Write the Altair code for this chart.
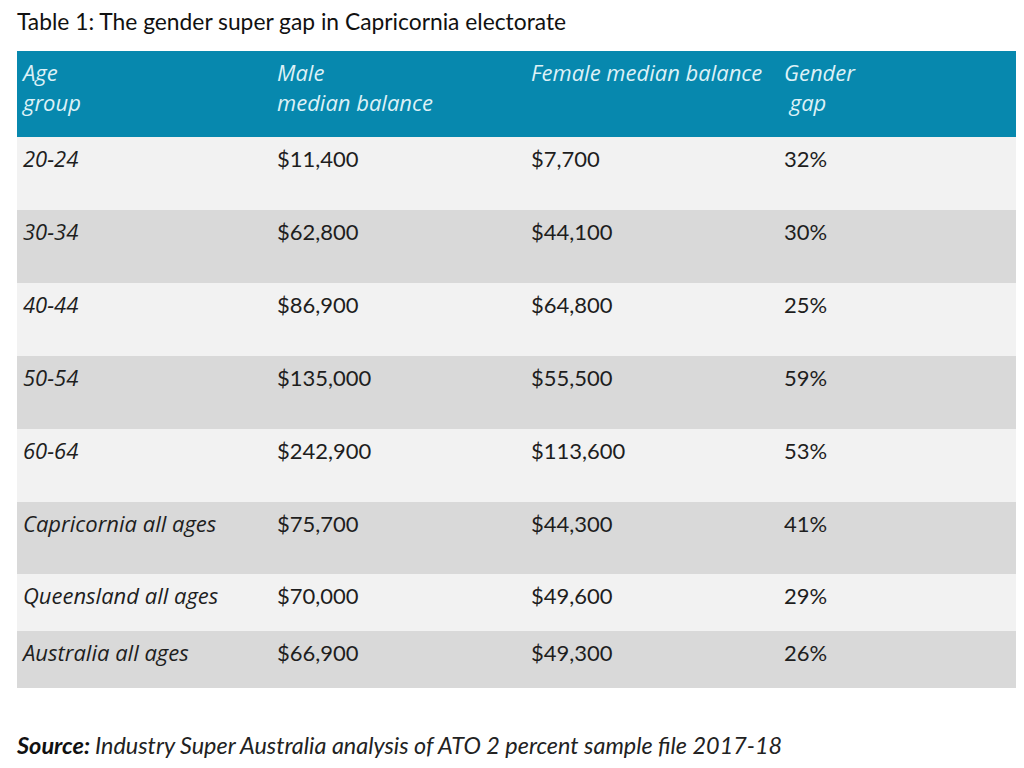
import altair as alt
import pandas as pd

# ---------------- data ----------------
title_text = "Table 1: The gender super gap in Capricornia electorate"
headers = ["Age\ngroup", "Male\nmedian balance", "Female median balance", "Gender\n\u200b\u00a0gap"]
age_groups = ["20-24", "30-34", "40-44", "50-54", "60-64",
              "Capricornia all ages", "Queensland all ages", "Australia all ages"]
male_balance = [11400, 62800, 86900, 135000, 242900, 75700, 70000, 66900]
female_balance = [7700, 44100, 64800, 55500, 113600, 44300, 49600, 49300]
gender_gap = [32, 30, 25, 59, 53, 41, 29, 26]
source_label = "Source:"
source_text = "Industry Super Australia analysis of ATO 2 percent sample file 2017-18"

# ---------------- layout ----------------
MARGIN = 8
W, H = 1008, 752
col_x = [23, 277, 531, 784]
table_left, table_right = 17, 1030
header_top, header_bottom = 51, 137
row_heights = [73, 73, 73, 73, 73, 72, 57, 57]
row_fills = ["#F2F2F2", "#D9D9D9"]
header_fill = "#0788AE"
header_text_color = "#DDF1F7"
text_color = "#1E1E1E"
title_y, source_y = 30, 754
text_baseline_offset = 30
header_baseline = 81

# ---------------- tables ----------------
rows = []
cells = []
top = header_bottom
for i, g in enumerate(age_groups):
    bottom = top + row_heights[i]
    rows.append({"x": table_left, "x2": table_right, "y": top, "y2": bottom,
                 "fill": row_fills[i % 2]})
    vals = [g, f"${male_balance[i]:,}", f"${female_balance[i]:,}", f"{gender_gap[i]}%"]
    for j, v in enumerate(vals):
        cells.append({"x": col_x[j], "y": top + text_baseline_offset, "label": v,
                      "italic": j == 0})
    top = bottom
rows.append({"x": table_left, "x2": table_right, "y": header_top, "y2": header_bottom,
             "fill": header_fill})

rows_df = pd.DataFrame(rows)
cells_df = pd.DataFrame(cells)
head_df = pd.DataFrame({"x": col_x, "y": [header_baseline] * 4, "label": headers})
title_df = pd.DataFrame({"x": [17], "y": [title_y], "label": [title_text]})
src_label_df = pd.DataFrame({"x": [17], "y": [source_y], "label": [source_label]})
src_df = pd.DataFrame({"x": [95], "y": [source_y], "label": [source_text]})

xs = alt.Scale(domain=[MARGIN, MARGIN + W], nice=False, zero=False)
ys = alt.Scale(domain=[MARGIN, MARGIN + H], nice=False, zero=False, reverse=True)
X = alt.X("x:Q", scale=xs, axis=None)
Y = alt.Y("y:Q", scale=ys, axis=None)

rects = alt.Chart(rows_df).mark_rect().encode(
    x=X, x2="x2:Q", y=Y, y2="y2:Q", color=alt.Color("fill:N", scale=None)
)

heads = alt.Chart(head_df).mark_text(
    align="left", baseline="alphabetic", font="Open Sans", fontStyle="italic",
    fontSize=22, color=header_text_color, lineBreak="\n", lineHeight=30
).encode(x=X, y=Y, text="label:N")

label_cells = alt.Chart(cells_df[cells_df["italic"]]).mark_text(
    align="left", baseline="alphabetic", font="Open Sans", fontStyle="italic",
    fontSize=22, color=text_color
).encode(x=X, y=Y, text="label:N")

value_cells = alt.Chart(cells_df[~cells_df["italic"]]).mark_text(
    align="left", baseline="alphabetic", font="Lato",
    fontSize=22, color=text_color
).encode(x=X, y=Y, text="label:N")

title = alt.Chart(title_df).mark_text(
    align="left", baseline="alphabetic", font="Lato", fontSize=22.8, color="#111111"
).encode(x=X, y=Y, text="label:N")

src_lab = alt.Chart(src_label_df).mark_text(
    align="left", baseline="alphabetic", font="Lato", fontStyle="italic",
    fontWeight="bold", fontSize=23.5, color="#111111"
).encode(x=X, y=Y, text="label:N")

src = alt.Chart(src_df).mark_text(
    align="left", baseline="alphabetic", font="Lato", fontStyle="italic",
    fontSize=23.4, color="#222222"
).encode(x=X, y=Y, text="label:N")

chart = alt.layer(rects, heads, label_cells, value_cells, title, src_lab, src).properties(
    width=W, height=H, padding=0, autosize=alt.AutoSizeParams(type="none")
).configure_view(stroke=None, clip=True)

chart.save("out.html", embed_options={"renderer": "svg", "actions": False})
